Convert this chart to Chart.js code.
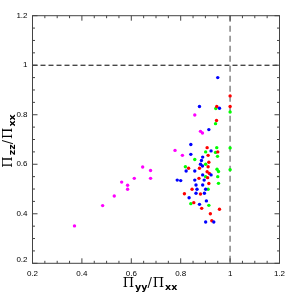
<!DOCTYPE html>
<html>
<head>
<meta charset="utf-8">
<script src="https://cdn.jsdelivr.net/npm/chart.js@4"></script>
<style>
  html, body { margin: 0; padding: 0; background: #fff; }
  #wrap { width: 295px; height: 295px; }
</style>
</head>
<body>
<div id="wrap"><canvas id="myChart" width="295" height="295"></canvas></div>
<script>
// axis limits and tick labels
const xRange = [0.2, 1.2];
const yRange = [0.2, 1.2];
const tickValues = [0.2, 0.4, 0.6, 0.8, 1, 1.2];
const tickLabels = ['0.2', '0.4', '0.6', '0.8', '1', '1.2'];
const minorStep = 0.05;

// reference lines
const hLineY = 1.0;
const vLineX = 1.0;

// points: [Pyy/Pxx, Pzz/Pxx]
const magentaPts = [
  [0.370, 0.351], [0.484, 0.433], [0.531, 0.472], [0.561, 0.528], [0.585, 0.515],
  [0.585, 0.499], [0.612, 0.543], [0.646, 0.589], [0.678, 0.575], [0.678, 0.543],
  [0.777, 0.656], [0.807, 0.636], [0.857, 0.799], [0.880, 0.733], [0.888, 0.726]
];
const bluePts = [
  [0.950, 0.950], [0.876, 0.833], [0.957, 0.826], [0.914, 0.740], [0.841, 0.680],
  [0.841, 0.640], [0.923, 0.654], [0.889, 0.629], [0.884, 0.615], [0.880, 0.600],
  [0.888, 0.593], [0.822, 0.573], [0.857, 0.573], [0.923, 0.557], [0.889, 0.557],
  [0.786, 0.536], [0.800, 0.534], [0.857, 0.536], [0.895, 0.536], [0.862, 0.516],
  [0.889, 0.516], [0.866, 0.499], [0.901, 0.499], [0.862, 0.483], [0.896, 0.483],
  [0.834, 0.465], [0.904, 0.452], [0.876, 0.438], [0.901, 0.367], [0.934, 0.367]
];
const redPts = [
  [1.000, 0.876], [1.000, 0.833], [0.946, 0.833], [0.945, 0.777], [0.950, 0.650],
  [0.907, 0.667], [0.911, 0.636], [0.914, 0.608], [0.876, 0.584], [0.832, 0.584],
  [0.911, 0.590], [0.907, 0.570], [0.916, 0.563], [0.909, 0.546], [0.874, 0.543],
  [0.914, 0.522], [0.846, 0.499], [0.815, 0.481], [0.880, 0.480], [0.853, 0.445],
  [0.885, 0.422], [0.920, 0.400], [0.926, 0.372], [0.957, 0.418]
];
const greenPts = [
  [1.000, 0.811], [0.942, 0.825], [0.941, 0.764], [0.946, 0.667], [1.000, 0.666],
  [0.941, 0.648], [0.949, 0.632], [0.901, 0.650], [0.857, 0.619], [0.901, 0.600],
  [0.819, 0.590], [0.947, 0.580], [0.953, 0.571], [1.000, 0.578], [0.901, 0.550],
  [0.950, 0.550], [0.953, 0.523], [0.911, 0.499], [0.841, 0.441], [0.914, 0.434]
];

function toXY(pts) {
  return pts.map(p => ({ x: p[0], y: p[1] }));
}

function makeSet(pts, color) {
  return {
    data: toXY(pts),
    backgroundColor: color,
    borderColor: color,
    borderWidth: 0,
    pointRadius: 1.7
  };
}

// draws e.g. Π_yy/Π_xx with real subscripts, centred on (0,0)
function drawSubText(ctx, parts) {
  const big = '13px "DejaVu Serif"';
  const small = 'bold 9.5px "DejaVu Sans"';
  const gap = 1;
  let total = 0;
  parts.forEach(p => {
    ctx.font = big; total += ctx.measureText(p[0]).width + gap;
    ctx.font = small; total += ctx.measureText(p[1]).width;
  });
  let x = -total / 2;
  ctx.fillStyle = '#000';
  ctx.textBaseline = 'alphabetic';
  ctx.textAlign = 'left';
  parts.forEach(p => {
    ctx.font = big; ctx.fillText(p[0], x, 4); x += ctx.measureText(p[0]).width + gap;
    ctx.font = small; ctx.fillText(p[1], x, 7); x += ctx.measureText(p[1]).width;
  });
}

const framePlugin = {
  id: 'frame',
  beforeDatasetsDraw(chart) {
    const { ctx, chartArea: a, scales } = chart;
    ctx.save();
    // horizontal dashed line
    const yy = scales.y.getPixelForValue(hLineY);
    ctx.strokeStyle = '#000';
    ctx.lineWidth = 1;
    ctx.setLineDash([5, 3]);
    ctx.beginPath(); ctx.moveTo(a.left, yy); ctx.lineTo(a.right, yy); ctx.stroke();
    // vertical dashed line
    const xx = scales.x.getPixelForValue(vLineX);
    ctx.strokeStyle = '#999';
    ctx.lineWidth = 1.8;
    ctx.setLineDash([6, 4]);
    ctx.beginPath(); ctx.moveTo(xx, a.top); ctx.lineTo(xx, a.bottom); ctx.stroke();

    // frame
    ctx.setLineDash([]);
    ctx.strokeStyle = '#444';
    ctx.lineWidth = 1;
    ctx.strokeRect(a.left, a.top, a.right - a.left, a.bottom - a.top);
    // inward ticks on all four sides
    const n = Math.round((xRange[1] - xRange[0]) / minorStep);
    ctx.beginPath();
    for (let i = 0; i <= n; i++) {
      const len = (i % 4 === 0) ? 5 : 2.5;
      const px = scales.x.getPixelForValue(xRange[0] + i * minorStep);
      ctx.moveTo(px, a.bottom); ctx.lineTo(px, a.bottom - len);
      ctx.moveTo(px, a.top); ctx.lineTo(px, a.top + len);
      const py = scales.y.getPixelForValue(yRange[0] + i * minorStep);
      ctx.moveTo(a.left, py); ctx.lineTo(a.left + len, py);
      ctx.moveTo(a.right, py); ctx.lineTo(a.right - len, py);
    }
    ctx.stroke();
    ctx.restore();
  },
  afterDraw(chart) {
    const { ctx, chartArea: a, scales } = chart;
    ctx.save();
    // tick labels
    ctx.fillStyle = '#000';
    ctx.font = '8px "Liberation Sans", Arial, sans-serif';
    ctx.textAlign = 'center';
    ctx.textBaseline = 'top';
    tickValues.forEach((v, i) => {
      ctx.fillText(tickLabels[i], scales.x.getPixelForValue(v), a.bottom + 6);
    });
    ctx.textAlign = 'right';
    ctx.textBaseline = 'middle';
    tickValues.forEach((v, i) => {
      let py = scales.y.getPixelForValue(v);
      if (i === 0) py -= 4;
      ctx.fillText(tickLabels[i], a.left - 5, py);
    });
    // axis titles
    ctx.translate(150, 283);
    drawSubText(ctx, [['Π', 'yy'], ['/', ''], ['Π', 'xx']]);
    ctx.setTransform(1, 0, 0, 1, 0, 0);
    ctx.translate(8, 141);
    ctx.rotate(-Math.PI / 2);
    drawSubText(ctx, [['Π', 'zz'], ['/', ''], ['Π', 'xx']]);
    ctx.restore();
  }
};

new Chart(document.getElementById('myChart').getContext('2d'), {
  type: 'scatter',
  data: {
    datasets: [
      makeSet(magentaPts, '#ff00ff'),
      makeSet(bluePts, '#0000ff'),
      makeSet(redPts, '#ff0000'),
      makeSet(greenPts, '#00ff00')
    ]
  },
  options: {
    responsive: false,
    animation: false,
    layout: { padding: { left: 32.5, right: 15.5, top: 15.7, bottom: 31.7 } },
    plugins: { legend: { display: false }, tooltip: { enabled: false } },
    scales: {
      x: { type: 'linear', display: false, min: xRange[0], max: xRange[1] },
      y: { type: 'linear', display: false, min: yRange[0], max: yRange[1] }
    }
  },
  plugins: [framePlugin]
});
</script>
</body>
</html>
